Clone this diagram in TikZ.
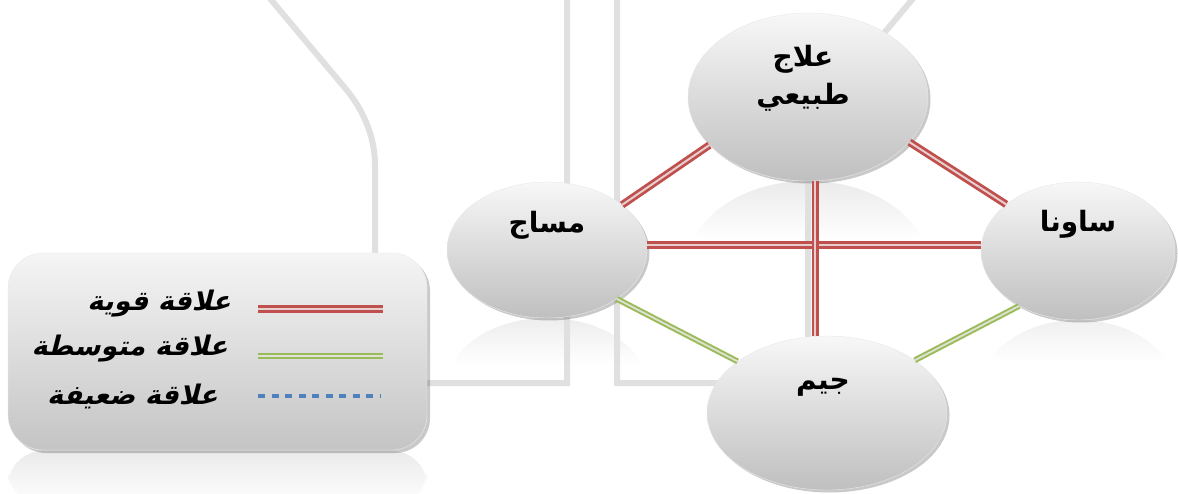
\documentclass[tikz,border=0pt]{standalone}
\usepackage{fontspec}
\usetikzlibrary{shadows,shapes.geometric,calc}
\TeXXeTstate=1
\newfontfamily\arfont[Script=Arabic]{DejaVu Sans}
\newfontfamily\arleg[Script=Arabic,FakeSlant=0.25]{DejaVu Sans}
\definecolor{redc}{HTML}{C0504D}
\definecolor{redmid}{HTML}{E6CFCF}
\definecolor{greenc}{HTML}{9BBB59}
\definecolor{greenmid}{HTML}{DFE1D6}
\definecolor{bluec}{HTML}{4F81BD}
\definecolor{bgline}{HTML}{E0E0E0}
\tikzset{
  bubble/.style={ellipse, inner sep=0pt, top color=black!3, bottom color=black!25,
    draw=black!9, line width=0.4pt,
    drop shadow={shadow xshift=2.5pt, shadow yshift=-2.5pt, opacity=0.3, fill=black!70}},
  legendbox/.style={rectangle, rounded corners=35pt, inner sep=0pt,
    top color=black!4, bottom color=black!23, draw=black!8, line width=0.4pt,
    drop shadow={shadow xshift=3pt, shadow yshift=-3pt, opacity=0.3, fill=black!70}},
  strongrel/.style={draw=redc, double=redmid, double distance=2pt, line width=2.8pt},
  midrel/.style={draw=greenc, double=greenmid, double distance=1.8pt, line width=2pt},
  weakrel/.style={draw=bluec, line width=4pt, dash pattern=on 7pt off 6.5pt},
  bgl/.style={draw=bgline, line width=6pt},
  btext/.style={font=\arfont\bfseries\fontsize{28}{38}\selectfont, align=center, inner sep=0pt},
  ltext/.style={font=\arleg\bfseries\fontsize{27}{28}\selectfont, inner sep=0pt, anchor=east}
}
\begin{document}
\begin{tikzpicture}[x=1pt,y=-1pt]
\useasboundingbox (0,0) rectangle (1178,494);
% reflections (faint mirrored tops under each shape)
\begin{scope}
  \clip (808,265) ellipse [x radius=120pt, y radius=84pt];
  \shade[top color=black!8, bottom color=white] (688,181) rectangle (928,240);
\end{scope}
\begin{scope}
  \clip (547,386) ellipse [x radius=100pt, y radius=68pt];
  \shade[top color=black!7, bottom color=white] (447,318) rectangle (647,365);
\end{scope}
\begin{scope}
  \clip (1078,389) ellipse [x radius=97pt, y radius=69pt];
  \shade[top color=black!6, bottom color=white] (981,320) rectangle (1175,362);
\end{scope}
\shade[top color=black!8, bottom color=white, rounded corners=35pt] (8,451) rectangle (427,505);
% background decoration
\draw[bgl] (267,-5) -- (345,88) .. controls (362,108) and (375,135) .. (375,165) -- (375,383) -- (567,383) -- (567,-5);
\draw[bgl] (617,-5) -- (617,383) -- (808,383) -- (808,165) .. controls (808,135) and (821,108) .. (838,88) -- (916,-5);
% legend
\node[legendbox, minimum width=419pt, minimum height=197pt] (lg) at (217.5,351.5) {};
\node[ltext] (l1) at (231,304) {\beginR علاقة قوية\endR};
\node[ltext] (l2) at (228,349) {\beginR علاقة متوسطة\endR};
\node[ltext] (l3) at (218,396) {\beginR علاقة ضعيفة\endR};
\coordinate (a1) at (258,309); \coordinate (b1) at (383,309);
\coordinate (a2) at (258,356); \coordinate (b2) at (383,356);
\coordinate (a3) at (258,396); \coordinate (b3) at (380,396);
\draw[strongrel] (a1) -- (b1);
\draw[midrel] (a2) -- (b2);
\draw[weakrel] (a3) -- (b3);
% bubbles
\node[bubble, minimum width=240pt, minimum height=168pt] (t) at (808,97) {};
\node[bubble, minimum width=200pt, minimum height=136pt] (m) at (547,250) {};
\node[bubble, minimum width=194pt, minimum height=138pt] (s) at (1078,251) {};
\node[bubble, minimum width=240pt, minimum height=154pt] (g) at (827,413) {};
% connectors
\draw[strongrel] (m.31) -- (t.206);
\draw[strongrel] (t.-24) -- (s.147);
\draw[strongrel] (m.3) -- (m.3 -| s.west);
\draw[strongrel] (t.-85) -- (t.-85 |- g.north);
\draw[midrel] (m.-35) -- (g.150);
\draw[midrel] (s.223) -- (g.31);
% labels
\node[btext] (tt) at (803,78) {\beginR علاج\endR\\\beginR طبيعي\endR};
\node[btext] (mt) at (547,225) {\beginR مساج\endR};
\node[btext] (st) at (1078,224) {\beginR ساونا\endR};
\node[btext] (gt) at (823,387) {\beginR جيم\endR};
\end{tikzpicture}
\end{document}
